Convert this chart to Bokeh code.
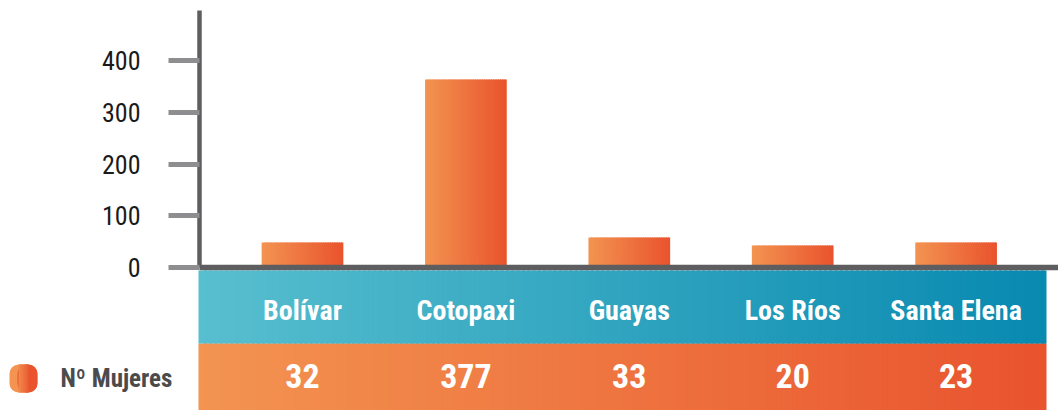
from bokeh.plotting import figure
from bokeh.models import Range1d, LinearAxis, FixedTicker
from bokeh.core.properties import value
from bokeh.embed import file_html
from bokeh.resources import INLINE

# ---------------- data ----------------
categories = ["Bolívar", "Cotopaxi", "Guayas", "Los Ríos", "Santa Elena"]
mujeres = [32, 377, 33, 20, 23]                 # values printed in the table
bar_heights = [48.7, 362.8, 58.4, 43.0, 48.7]   # bar heights as drawn against the axis
y_ticks = [0, 100, 200, 300, 400]
series_name = "Nº Mujeres"

# ---------------- layout helpers (page pixel -> data) ----------------
W, H = 1058, 410
SX, CX0 = 163.4, 302.0    # px per category, page x of first category
SY, CY0 = 0.519, 267.3    # px per unit, page y of value 0


def dx(px):
    return (px - CX0) / SX


def dy(py):
    return (CY0 - py) / SY


def hexrgb(h):
    h = h.lstrip("#")
    return tuple(int(h[i:i + 2], 16) for i in (0, 2, 4))


def mix(c1, c2, t):
    a, b = hexrgb(c1), hexrgb(c2)
    return "#%02x%02x%02x" % tuple(round(a[k] + (b[k] - a[k]) * t) for k in range(3))


def gradient(left, right, bottom, top, c1, c2, n):
    w = (right - left) / n
    L, R, B, T, C = [], [], [], [], []
    for k in range(n):
        l = left + k * w
        r = min(right, l + 1.6 * w)
        L.append(l); R.append(r); B.append(bottom); T.append(top)
        C.append(mix(c1, c2, (k + 0.5) / n))
    return dict(left=L, right=R, bottom=B, top=T, color=C)


ORANGE_L, ORANGE_R = "#f39451", "#e9532e"
TEAL_L, TEAL_R = "#58bfcf", "#0889b0"
FONT = "Roboto Condensed"

p = figure(width=W, height=H, output_backend="svg", toolbar_location=None,
           x_range=Range1d(dx(0), dx(W)), y_range=Range1d(dy(H), dy(0)),
           x_axis_location=None, y_axis_location=None, min_border=0)
p.outline_line_color = None
p.grid.grid_line_color = None
p.background_fill_color = "white"
p.border_fill_color = "white"

# ---------------- table bands ----------------
band_top, band_mid, band_bot = dy(270), dy(343.3), dy(H)
band_l, band_r = dx(198), dx(1046)
g = gradient(band_l, band_r, band_mid, band_top, TEAL_L, TEAL_R, 160)
p.quad(left=g["left"], right=g["right"], bottom=g["bottom"], top=g["top"],
       fill_color=g["color"], line_color=None)
g = gradient(band_l, band_r, band_bot, band_mid, ORANGE_L, ORANGE_R, 160)
p.quad(left=g["left"], right=g["right"], bottom=g["bottom"], top=g["top"],
       fill_color=g["color"], line_color=None)

# ---------------- bars ----------------
bar_w = 0.5
for i, h in enumerate(bar_heights):
    g = gradient(i - bar_w / 2, i + bar_w / 2, 0, h, ORANGE_L, ORANGE_R, 36)
    p.quad(left=g["left"], right=g["right"], bottom=g["bottom"], top=g["top"],
           fill_color=g["color"], line_color=None)

# ---------------- table texts ----------------
xs = list(range(len(categories)))
p.text(x=xs, y=[dy(309.7)] * len(xs), text=categories,
       text_align="center", text_baseline="middle",
       text_font=value(FONT), text_font_style="bold", text_font_size="28px",
       text_color="white")
p.text(x=xs, y=[dy(375.0)] * len(xs), text=[str(v) for v in mujeres],
       text_align="center", text_baseline="middle",
       text_font=value(FONT), text_font_style="bold", text_font_size="34px",
       text_color="white")

# ---------------- legend ----------------
ml, mr, mt, mb = dx(9), dx(37), dy(364), dy(392)
r9 = 9
p.quad(left=[ml], right=[mr], bottom=[mb], top=[mt], fill_color=ORANGE_L,
       line_color=None, border_radius=r9)
p.quad(left=[dx(17)], right=[mr], bottom=[mb], top=[mt], fill_color=ORANGE_R,
       line_color=None, border_radius=r9)
g = gradient(dx(18), dx(28), mb, mt, mix(ORANGE_L, ORANGE_R, 0.15), mix(ORANGE_L, ORANGE_R, 0.85), 10)
p.quad(left=g["left"], right=g["right"], bottom=g["bottom"], top=g["top"],
       fill_color=g["color"], line_color=None)
p.text(x=[dx(60)], y=[dy(378.3)], text=[series_name],
       text_align="left", text_baseline="middle",
       text_font=value(FONT), text_font_style="bold", text_font_size="25px",
       text_color="#4b4b4d")

# ---------------- axes ----------------
yax = LinearAxis(fixed_location=dx(199), bounds=(0, dy(10)),
                 ticker=FixedTicker(ticks=y_ticks))
yax.axis_line_color = "#5e5e61"
yax.axis_line_width = 4.5
yax.major_tick_out = 31
yax.major_tick_in = 0
yax.major_tick_line_color = "#8e8e91"
yax.major_tick_line_width = 5
yax.minor_tick_line_color = None
yax.major_label_standoff = 28
yax.major_label_text_font = FONT
yax.major_label_text_font_size = "26px"
yax.major_label_text_color = "#1a1a1a"
p.add_layout(yax, "left")

xax = LinearAxis(fixed_location=0, bounds=(dx(199), dx(W)),
                 ticker=FixedTicker(ticks=[]))
xax.axis_line_color = "#5e5e61"
xax.axis_line_width = 5.7
xax.major_tick_line_color = None
xax.minor_tick_line_color = None
xax.major_label_text_font_size = "0px"
p.add_layout(xax, "below")

open("out.html", "w").write(file_html(p, INLINE))
